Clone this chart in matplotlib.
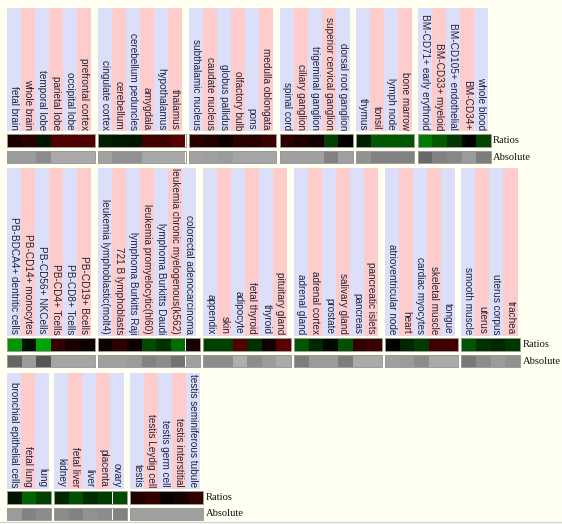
import matplotlib
matplotlib.use("Agg")
import matplotlib.pyplot as plt
from matplotlib.patches import Rectangle

# ---------------- data ----------------
row1_labels = [
    ["fetal brain", "whole brain", "temporal lobe", "parietal lobe", "occipital lobe", "prefrontal cortex"],
    ["cingulate cortex", "cerebellum", "cerebellum peduncles", "amygdala", "hypothalamus", "thalamus"],
    ["subthalamic nucleus", "caudate nucleus", "globus pallidus", "olfactory bulb", "pons", "medulla oblongata"],
    ["spinal cord", "ciliary ganglion", "trigeminal ganglion", "superior cervical ganglion", "dorsal root ganglion"],
    ["thymus", "tonsil", "lymph node", "bone marrow"],
    ["BM-CD71+ early erythroid", "BM-CD33+ myeloid", "BM-CD105+ endothelial", "BM-CD34+", "whole blood"],
]
row2_labels = [
    ["PB-BDCA4+ dentritic cells", "PB-CD14+ monocytes", "PB-CD56+ NKCells", "PB-CD4+ Tcells", "PB-CD8+ Tcells", "PB-CD19+ Bcells"],
    ["leukemia lymphoblastic(molt4)", "721 B lymphoblasts", "lymphoma Burkitts Raji", "leukemia promyelocytic(hl60)",
     "lymphoma Burkitts Daudi", "leukemia chronic myelogenous(k562)", "colorectal adenocarcinoma"],
    ["appendix", "skin", "adipocyte", "fetal thyroid", "thyroid", "pituitary gland"],
    ["adrenal gland", "adrenal cortex", "prostate", "salivary gland", "pancreas", "pancreatic islets"],
    ["atrioventricular node", "heart", "cardiac myocytes", "skeletal muscle", "tongue"],
    ["smooth muscle", "uterus", "uterus corpus", "trachea"],
]
row3_labels = [
    ["bronchial epithelial cells", "fetal lung", "lung"],
    ["kidney", "fetal liver", "liver", "placenta", "ovary"],
    ["testis", "testis Leydig cell", "testis germ cell", "testis interstitial", "testis seminiferous tubule"],
]

# ratio: positive = red level, negative = green level (0..255)
row1_ratio = [
    [28, 45, -22, 80, 80, 80],
    [-30, -25, -22, 65, 65, 90],
    [45, 35, 15, 45, 40, 60],
    [45, 30, 20, -65, 5],
    [-30, -90, -90, -85],
    [-125, -90, -55, 0, -70],
]
row2_ratio = [
    [-150, -15, -165, 50, 25, 15],
    [15, 45, 15, -75, -50, -110, 25],
    [-65, -65, 85, -50, 20, 90],
    [-85, -40, -8, -80, 50, 60],
    [3, -35, -60, 65, 65],
    [-85, -50, -40, -55],
]
row3_ratio = [
    [-22, -100, -65],
    [-40, -80, -45, -60, -75],
    [35, 50, 8, 25, 50],
]

# absolute: gray level (0..255)
row1_abs = [
    [155, 155, 140, 170, 170, 170],
    [162, 145, 145, 168, 168, 168],
    [162, 160, 155, 165, 165, 165],
    [160, 160, 160, 130, 160],
    [145, 130, 130, 130],
    [105, 130, 135, 155, 125],
]
row2_abs = [
    [100, 155, 85, 165, 165, 165],
    [160, 160, 155, 130, 140, 115, 160],
    [140, 140, 175, 140, 155, 170],
    [125, 155, 155, 125, 170, 170],
    [160, 155, 140, 170, 170],
    [120, 140, 155, 145],
]
row3_abs = [
    [155, 130, 140],
    [140, 130, 145, 140, 130],
    [160, 160, 160, 160, 160],
]

row_names = ["Ratios", "Absolute"]

# ---------------- layout ----------------
W, H = 562, 524
BG = "#fffff2"
LAV = "#dcdff9"
PINK = "#ffcccc"
X0 = 7.0
CELL_W = 14.6
STRIPE_W = 14.0
GAP = 3.3
RATIO_H = 13.3
ABS_OFF = 16.7
ABS_H = 12.6

rows = [
    dict(labels=row1_labels, ratio=row1_ratio, absv=row1_abs, top=8.3, rtop=134.0),
    dict(labels=row2_labels, ratio=row2_ratio, absv=row2_abs, top=168.3, rtop=338.0),
    dict(labels=row3_labels, ratio=row3_ratio, absv=row3_abs, top=372.7, rtop=491.0),
]


def ratio_color(v):
    a = min(abs(v), 255) / 255.0
    return (a, 0, 0) if v > 0 else (0, a, 0)


def gray(v):
    g = v / 255.0
    return (g, g, g)


fig = plt.figure(figsize=(W / 100, H / 100), dpi=100, facecolor=BG)
ax = fig.add_axes([0, 0, 1, 1])
ax.set_facecolor(BG)
ax.set_xlim(0, W)
ax.set_ylim(H, 0)
ax.axis("off")

for row in rows:
    x = X0
    sbot = row["rtop"] - 2.5
    stop = row["top"]
    for labels, rvals, avals in zip(row["labels"], row["ratio"], row["absv"]):
        n = len(labels)
        # stripes + labels
        sx = [x + i * STRIPE_W for i in range(n)]
        ax.bar(sx, [sbot - stop] * n, width=STRIPE_W, bottom=stop, align="edge",
               color=[LAV if i % 2 == 0 else PINK for i in range(n)], linewidth=0)
        for i, lab in enumerate(labels):
            ax.text(sx[i] + STRIPE_W / 2, sbot - 1.5, lab, rotation=-90,
                    ha="center", va="bottom", fontsize=7.2,
                    family=["Liberation Sans", "DejaVu Sans"], color="#23233a")
        # cells
        cx = [x + i * CELL_W for i in range(n)]
        ax.bar(cx, [RATIO_H] * n, width=CELL_W, bottom=row["rtop"], align="edge",
               color=[ratio_color(v) for v in rvals], linewidth=0)
        ax.bar(cx, [ABS_H] * n, width=CELL_W, bottom=row["rtop"] + ABS_OFF, align="edge",
               color=[gray(v) for v in avals], linewidth=0)
        for top, h in ((row["rtop"], RATIO_H), (row["rtop"] + ABS_OFF, ABS_H)):
            ax.add_patch(Rectangle((x, top), n * CELL_W, h, fill=False,
                                   edgecolor="#9a9a9a", linewidth=0.7))
        x += n * CELL_W + GAP
    xe = x - GAP + 2.5
    ax.text(xe, row["rtop"] + RATIO_H / 2, row_names[0], ha="left", va="center",
            fontsize=7.6, family=["Liberation Serif", "DejaVu Serif"], color="#111111")
    ax.text(xe, row["rtop"] + ABS_OFF + ABS_H / 2, row_names[1], ha="left", va="center",
            fontsize=7.6, family=["Liberation Serif", "DejaVu Serif"], color="#111111")

ax.plot([0, W], [521.5, 521.5], color="#d6d6d6", linewidth=1.0)

fig.savefig("out.png", dpi=100, facecolor=BG)
